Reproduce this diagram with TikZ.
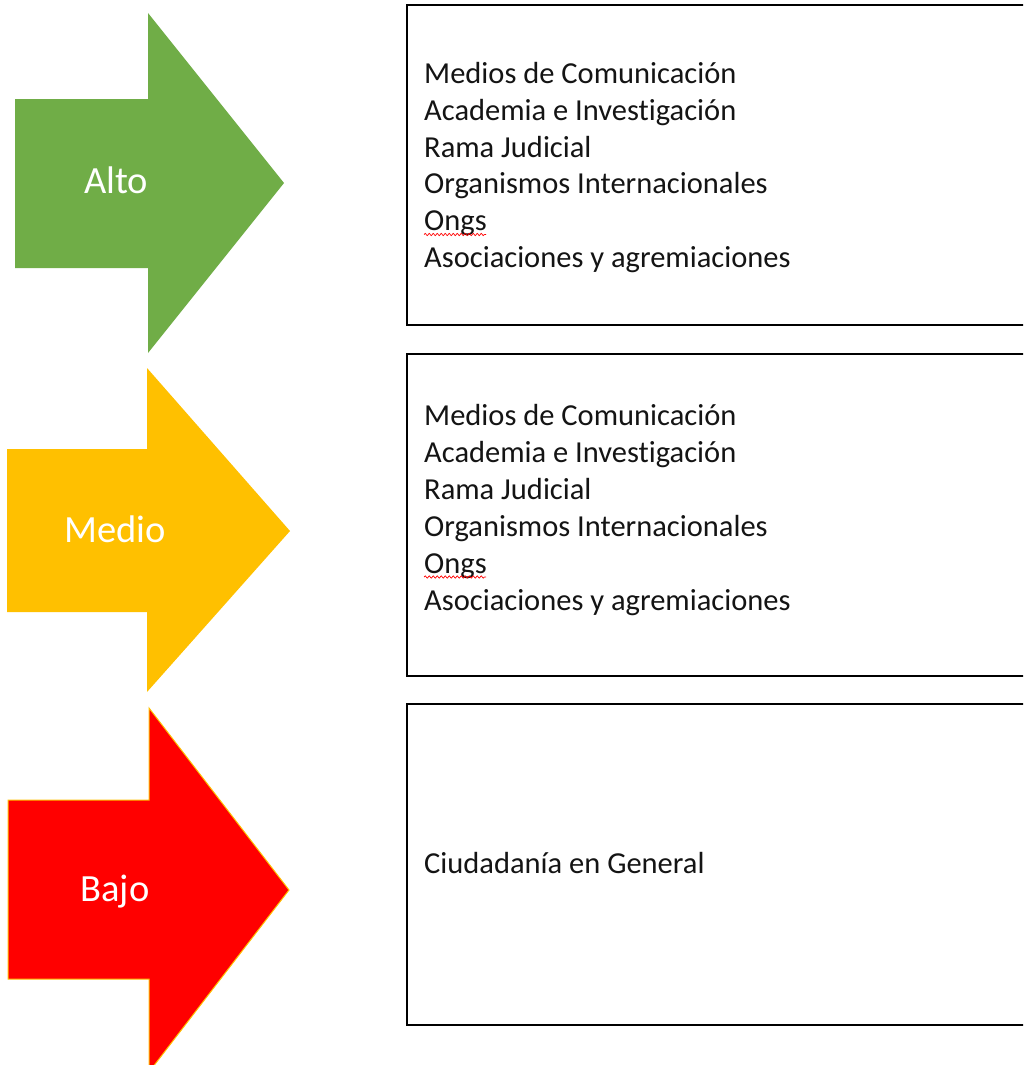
\documentclass[tikz,border=0pt]{standalone}
\usepackage{fontspec}
\setmainfont[Ligatures={NoCommon}]{Carlito}
\usetikzlibrary{decorations.pathmorphing}
\definecolor{altogreen}{HTML}{70AD47}
\definecolor{medioyellow}{HTML}{FFC000}
\definecolor{bajored}{HTML}{FF0000}
\tikzset{
  boxstyle/.style={draw=black, line width=1.8pt, fill=white, inner sep=0pt, outer sep=0pt, anchor=north west, minimum width=640pt},
  boxtext/.style={anchor=base west, inner sep=0pt, font=\fontsize{30.5}{36}\selectfont, text=black!92},
  arrowlabel/.style={anchor=base, inner sep=0pt, font=\fontsize{38.5}{46}\selectfont, text=white},
  spellwave/.style={draw=red, line width=0.7pt, decorate, decoration={snake, amplitude=1.1pt, segment length=4pt}}
}
\begin{document}
\begin{tikzpicture}[x=1pt, y=-1pt]
\useasboundingbox (0,0) rectangle (1023,1065);
\begin{scope}
\clip (0,0) rectangle (1023,1065);
% arrows
\fill[altogreen] (15,99) -- (148,99) -- (148,13) -- (284,183) -- (148,353) -- (148,268) -- (15,268) -- cycle;
\fill[medioyellow] (7,449) -- (147,449) -- (147,368) -- (290,531) -- (147,692) -- (147,612) -- (7,612) -- cycle;
\filldraw[fill=bajored, draw=medioyellow, line width=1pt] (8,800) -- (149,800) -- (149,708) -- (289,890) -- (149,1072) -- (149,979) -- (8,979) -- cycle;
% boxes
\node[boxstyle, minimum height=320pt] (box1) at (407,5) {};
\node[boxstyle, minimum height=322pt] (box2) at (407,354) {};
\node[boxstyle, minimum height=321pt] (box3) at (407,704) {};
\end{scope}
% arrow labels
\node[arrowlabel] (alto) at (116,193) {Alto};
\node[arrowlabel] (medio) at (115,542) {Medio};
\node[arrowlabel] (bajo) at (115,901) {Bajo};
% box 1 text
\node[boxtext] (a1) at (424,84) {Medios de Comunicación};
\node[boxtext] (a2) at (424,120.6) {Academia e Investigación};
\node[boxtext] (a3) at (424,157.2) {Rama Judicial};
\node[boxtext] (a4) at (424,193.8) {Organismos Internacionales};
\node[boxtext] (a5) at (424,230.4) {Ongs};
\node[boxtext] (a6) at (424,267) {Asociaciones y agremiaciones};
% box 2 text
\node[boxtext] (b1) at (424,425) {Medios de Comunicación};
\node[boxtext] (b2) at (424,462) {Academia e Investigación};
\node[boxtext] (b3) at (424,499) {Rama Judicial};
\node[boxtext] (b4) at (424,536) {Organismos Internacionales};
\node[boxtext] (b5) at (424,573) {Ongs};
\node[boxtext] (b6) at (424,610) {Asociaciones y agremiaciones};
% box 3 text
\node[boxtext] (c1) at (424,873) {Ciudadanía en General};
% spell-check underlines
\coordinate (w1s) at (424,234.5);
\coordinate (w1e) at (486,234.5);
\coordinate (w2s) at (424,577);
\coordinate (w2e) at (486,577);
\draw[spellwave] (w1s) -- (w1e);
\draw[spellwave] (w2s) -- (w2e);
\end{tikzpicture}
\end{document}
